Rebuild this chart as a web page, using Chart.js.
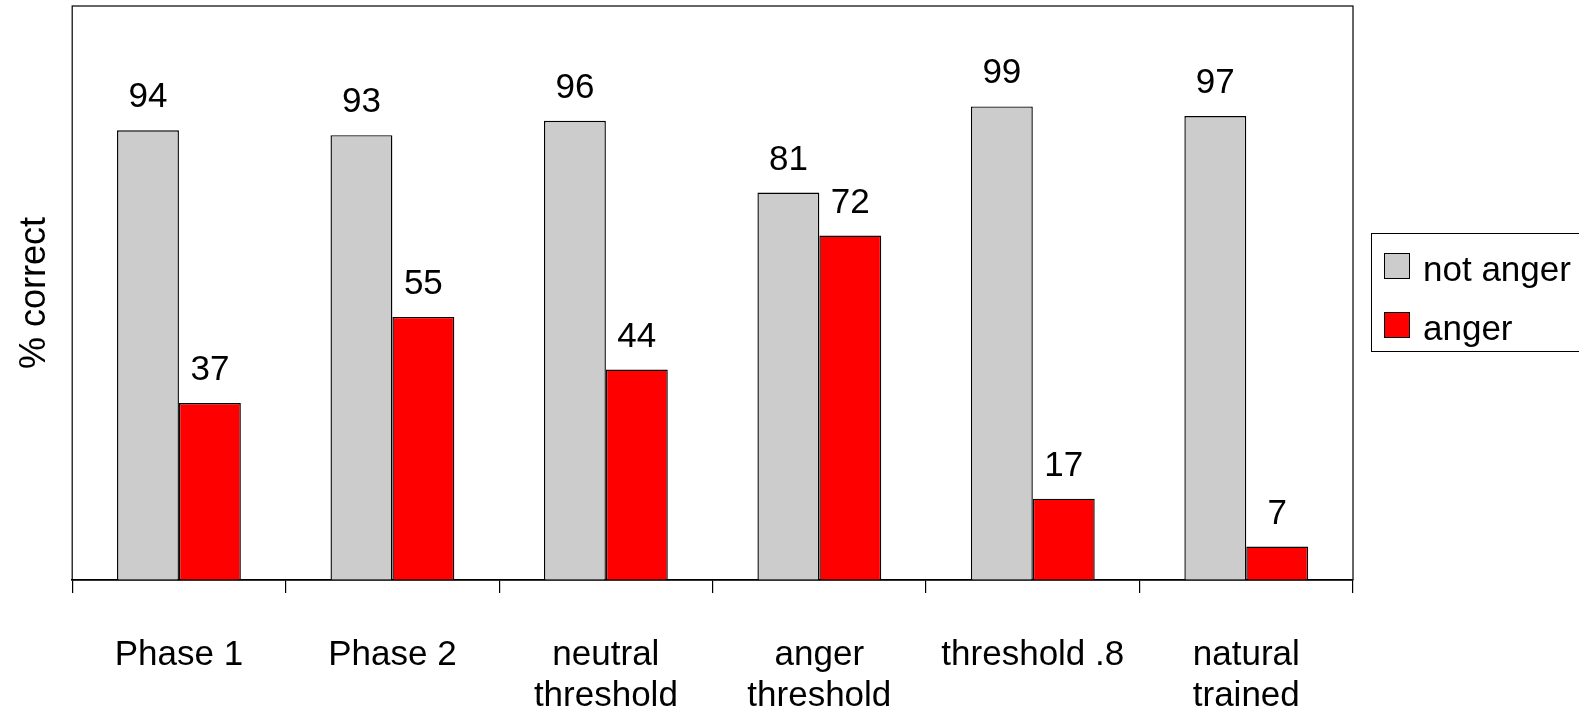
<!DOCTYPE html>
<html>
<head>
<meta charset="utf-8">
<script src="https://cdn.jsdelivr.net/npm/chart.js@4"></script>
<style>
  html, body { margin: 0; padding: 0; background: #fff; overflow: hidden; }
  #wrap { width: 1579px; height: 715px; position: relative; }
</style>
</head>
<body>
<div id="wrap"><canvas id="chart"></canvas></div>
<script>
const categories = [['Phase 1'], ['Phase 2'], ['neutral', 'threshold'], ['anger', 'threshold'], ['threshold .8'], ['natural', 'trained']];
const notAnger = [94, 93, 96, 81, 99, 97];
const anger = [37, 55, 44, 72, 17, 7];
const seriesNames = ['not anger', 'anger'];
const seriesColors = ['#cccccc', '#ff0000'];

const FONT = "'Liberation Sans', Arial, sans-serif";

// frame around the plot area, value labels and the boxed legend
const extras = {
    id: 'extras',
    afterDatasetsDraw(chart) {
        const ctx = chart.ctx;
        const a = chart.chartArea;
        ctx.save();
        ctx.strokeStyle = '#000';
        ctx.lineWidth = 1.2;
        ctx.strokeRect(a.left, a.top, a.right - a.left, a.bottom - a.top);

        ctx.fillStyle = '#000';
        ctx.font = '35px ' + FONT;
        ctx.textAlign = 'center';
        ctx.textBaseline = 'alphabetic';
        chart.data.datasets.forEach((ds, i) => {
            chart.getDatasetMeta(i).data.forEach((bar, j) => {
                ctx.fillText(ds.data[j], bar.x, bar.y - 23);
            });
        });

        // legend
        const lx = 1371, ly = 233;
        ctx.fillStyle = '#fff';
        ctx.fillRect(lx, ly, 230, 118);
        ctx.lineWidth = 1;
        ctx.strokeRect(lx + 0.5, ly + 0.5, 230, 118);
        ctx.textAlign = 'left';
        chart.data.datasets.forEach((ds, i) => {
            const sy = 253 + i * 59;
            ctx.fillStyle = ds.backgroundColor;
            ctx.fillRect(1384, sy, 26, 26);
            ctx.strokeStyle = '#000';
            ctx.strokeRect(1384.5, sy + 0.5, 25, 25);
            ctx.fillStyle = '#000';
            ctx.fillText(ds.label, 1423, sy + 28);
        });
        ctx.restore();
    }
};

new Chart(
    document.getElementById('chart'),
    {
        type: 'bar',
        data: {
            labels: categories,
            datasets: [
                {
                    label: seriesNames[0],
                    data: notAnger,
                    backgroundColor: seriesColors[0],
                    borderColor: '#000',
                    borderWidth: 1.4
                },
                {
                    label: seriesNames[1],
                    data: anger,
                    backgroundColor: seriesColors[1],
                    borderColor: '#000',
                    borderWidth: 1.4
                }
            ]
        },
        options: {
            responsive: true,
            maintainAspectRatio: false,
            animation: false,
            categoryPercentage: 0.58,
            barPercentage: 1.0,
            layout: {
                padding: { top: 6, right: 226, bottom: 0, left: 5 }
            },
            plugins: {
                legend: { display: false },
                tooltip: { enabled: false }
            },
            scales: {
                x: {
                    afterFit(scale) { scale.height = 135; },
                    grid: {
                        display: true,
                        drawOnChartArea: false,
                        drawTicks: true,
                        tickLength: 13,
                        color: '#000',
                        lineWidth: 1.2
                    },
                    border: { display: true, color: '#000', width: 1.5 },
                    ticks: {
                        color: '#000',
                        padding: 42,
                        maxRotation: 0,
                        autoSkip: false,
                        font: { family: FONT, size: 35, lineHeight: 1.17 }
                    }
                },
                y: {
                    min: 0,
                    max: 120,
                    grid: { display: false },
                    border: { display: false },
                    ticks: { display: false },
                    title: {
                        display: true,
                        text: '% correct',
                        color: '#000',
                        padding: { top: 8, bottom: 8 },
                        font: { family: FONT, size: 36 }
                    }
                }
            }
        },
        plugins: [extras]
    }
);
</script>
</body>
</html>
